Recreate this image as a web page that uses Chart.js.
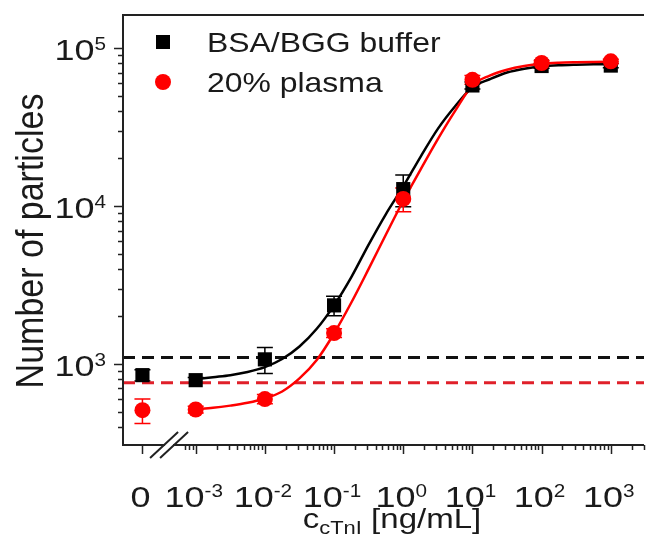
<!DOCTYPE html>
<html>
<head>
<meta charset="utf-8">
<script src="https://cdn.jsdelivr.net/npm/chart.js@4.4.1/dist/chart.umd.min.js"></script>
<style>
  html, body { margin: 0; padding: 0; background: #fff; }
  #wrap { width: 654px; height: 538px; }
</style>
</head>
<body>
<div id="wrap"><canvas id="chart" width="654" height="538"></canvas></div>
<script>
// measured points, cTnI in ng/mL (0 = blank sample)
const concentrations = [0, 1e-3, 1e-2, 1e-1, 1, 10, 100, 1000];
const bufferCounts = [850, 790, 1070, 2350, 12800, 58000, 77000, 77500];
const bufferErrors = [70, 30, 200, 330, 2900, 3000, 2500, 2500];
const plasmaCounts = [510, 515, 600, 1570, 11100, 63000, 80500, 82500];
const plasmaErrors = [90, 25, 40, 100, 1900, 4000, 3000, 2500];

const fitConc = [0.001, 0.001778, 0.003162, 0.005623, 0.01, 0.01778, 0.03162, 0.05623,
  0.1, 0.1778, 0.3162, 0.5623, 1, 1.778, 3.162, 5.623, 10, 17.78, 31.62, 56.23,
  100, 177.8, 316.2, 562.3, 1000];
const bufferFit = [800, 825, 850, 890, 955, 1075, 1290, 1670, 2350, 3550, 5700, 8900,
  13300, 20500, 30800, 42800, 56500, 63500, 70000, 74000, 76500, 77800, 78500, 79000, 79200];
const plasmaFit = [518, 528, 545, 568, 605, 670, 810, 1060, 1560, 2450, 4000, 6600,
  10800, 17000, 26500, 40000, 58000, 67000, 73000, 77000, 79500, 80700, 81300, 81700, 82000];

// blank limits (dashed)
const bufferLimit = 1100;
const plasmaLimit = 760;

// axes
const xTickValues = [0, 1e-3, 1e-2, 1e-1, 1, 10, 100, 1000];
const xTickExps = ['', '-3', '-2', '-1', '0', '1', '2', '3'];
const yTickValues = [1e3, 1e4, 1e5];
const yTickExps = ['3', '4', '5'];

const ZERO_AT = 1.7e-4;   // where the blank sits left of the axis break
const X_MIN = 8.9e-5, X_MAX = 3020;
const Y_MIN = 307, Y_MAX = 162000;

const FONT = '"Liberation Sans", Arial, sans-serif';
const INK = '#1a1a1a';

const xMinor = [7e-4, 8e-4, 9e-4];
for (let e = -3; e <= 3; e++) {
  for (let k = 2; k <= 9; k++) {
    const v = k * Math.pow(10, e);
    if (v < X_MAX) xMinor.push(v);
  }
}
const yMinor = [];
for (let e = 2; e <= 5; e++) {
  for (let k = 2; k <= 9; k++) {
    const v = k * Math.pow(10, e);
    if (v > Y_MIN && v < Y_MAX) yMinor.push(v);
  }
}

const xOf = c => (c === 0 ? ZERO_AT : c);
const pts = (xs, ys) => xs.map((c, i) => ({ x: xOf(c), y: ys[i] }));

// the figure's lettering is a little wider than tall, so text is stretched sideways
function textW(ctx, text, size, sx) {
  ctx.font = size + 'px ' + FONT;
  return ctx.measureText(text).width * sx;
}

function drawText(ctx, text, left, baseline, size, sx) {
  ctx.save();
  ctx.font = size + 'px ' + FONT;
  ctx.translate(left, baseline);
  ctx.scale(sx, 1);
  ctx.textAlign = 'left';
  ctx.textBaseline = 'alphabetic';
  ctx.fillText(text, 0, 0);
  ctx.restore();
}

function powerLabel(ctx, base, exp, anchorX, baseline, align) {
  const wb = textW(ctx, base, 30, 1.2);
  const we = exp ? textW(ctx, exp, 18, 1.15) : 0;
  const total = wb + we;
  const left = align === 'right' ? anchorX - total : anchorX - total / 2;
  drawText(ctx, base, left, baseline, 30, 1.2);
  if (exp) drawText(ctx, exp, left + wb, baseline - 10, 18, 1.15);
}

const errorBars = {
  id: 'errorBars',
  beforeDatasetsDraw(chart) {
    const { ctx, scales: { x, y } } = chart;
    const draw = (means, errs, color) => {
      ctx.save();
      ctx.strokeStyle = color;
      ctx.lineWidth = 1.5;
      means.forEach((m, i) => {
        const px = x.getPixelForValue(xOf(concentrations[i]));
        const top = y.getPixelForValue(m + errs[i]);
        const bot = y.getPixelForValue(Math.max(m - errs[i], 1));
        ctx.beginPath();
        ctx.moveTo(px, top); ctx.lineTo(px, bot);
        ctx.moveTo(px - 8, top); ctx.lineTo(px + 8, top);
        ctx.moveTo(px - 8, bot); ctx.lineTo(px + 8, bot);
        ctx.stroke();
      });
      ctx.restore();
    };
    draw(bufferCounts, bufferErrors, '#000');
    draw(plasmaCounts, plasmaErrors, '#f00');
  }
};

const frame = {
  id: 'frame',
  afterDraw(chart) {
    const { ctx, chartArea: a, scales: { x, y } } = chart;
    ctx.save();
    ctx.strokeStyle = '#222';
    ctx.lineWidth = 2;
    ctx.beginPath();
    ctx.moveTo(a.right, a.top); ctx.lineTo(a.left, a.top);
    ctx.lineTo(a.left, a.bottom); ctx.lineTo(a.right, a.bottom);
    ctx.stroke();

    // ticks
    ctx.lineWidth = 1.5;
    ctx.beginPath();
    xTickValues.forEach(v => {
      const px = Math.round(x.getPixelForValue(xOf(v))) + 0.5;
      ctx.moveTo(px, a.bottom); ctx.lineTo(px, a.bottom + 9);
    });
    xMinor.forEach(v => {
      const px = Math.round(x.getPixelForValue(v)) + 0.5;
      ctx.moveTo(px, a.bottom); ctx.lineTo(px, a.bottom + 5);
    });
    yTickValues.forEach(v => {
      const py = Math.round(y.getPixelForValue(v)) + 0.5;
      ctx.moveTo(a.left, py); ctx.lineTo(a.left - 9, py);
    });
    yMinor.forEach(v => {
      const py = Math.round(y.getPixelForValue(v)) + 0.5;
      ctx.moveTo(a.left, py); ctx.lineTo(a.left - 5, py);
    });
    ctx.stroke();

    // axis break between the blank and 10^-3
    const mid = (x.getPixelForValue(ZERO_AT) + x.getPixelForValue(1e-3)) / 2;
    const by = a.bottom;
    ctx.fillStyle = '#fff';
    ctx.fillRect(mid - 4, by - 3, 8, 6);
    ctx.strokeStyle = '#222';
    ctx.lineWidth = 2;
    ctx.beginPath();
    [-5, 5].forEach(d => {
      ctx.moveTo(mid + d - 14, by + 13); ctx.lineTo(mid + d + 14, by - 13);
    });
    ctx.stroke();

    // tick labels
    ctx.fillStyle = INK;
    xTickValues.forEach((v, i) => {
      const px = x.getPixelForValue(xOf(v));
      powerLabel(ctx, v === 0 ? '0' : '10', xTickExps[i], px - 2, 507, 'center');
    });
    yTickValues.forEach((v, i) => {
      const py = y.getPixelForValue(v);
      powerLabel(ctx, '10', yTickExps[i], 106, py + 12, 'right');
    });

    // axis titles
    ctx.save();
    ctx.font = '34px ' + FONT;
    ctx.translate(32, 241);
    ctx.scale(1.12, 1);
    ctx.rotate(-Math.PI / 2);
    ctx.textAlign = 'center';
    ctx.textBaseline = 'middle';
    ctx.fillText('Number of particles', 0, 0);
    ctx.restore();

    const wc = textW(ctx, 'c', 28, 1.18), ws = textW(ctx, 'cTnI', 18, 1.22),
      wr = textW(ctx, ' [ng/mL]', 28, 1.18);
    const tx = 392 - (wc + ws + wr) / 2;
    drawText(ctx, 'c', tx, 528, 28, 1.18);
    drawText(ctx, 'cTnI', tx + wc, 534, 18, 1.22);
    drawText(ctx, ' [ng/mL]', tx + wc + ws, 528, 28, 1.18);

    // legend
    ctx.fillStyle = '#000';
    ctx.fillRect(156, 35, 14, 14);
    ctx.fillStyle = '#f00';
    ctx.beginPath();
    ctx.arc(163, 82, 8, 0, Math.PI * 2);
    ctx.fill();
    ctx.fillStyle = INK;
    drawText(ctx, 'BSA/BGG buffer', 207, 52, 28, 1.14);
    drawText(ctx, '20% plasma', 207, 92, 28, 1.14);
    ctx.restore();
  }
};

new Chart(document.getElementById('chart'), {
  type: 'scatter',
  data: {
    datasets: [
      { label: '20% plasma', data: pts(concentrations, plasmaCounts), order: 1,
        pointStyle: 'circle', pointRadius: 8, pointBorderWidth: 0,
        backgroundColor: '#f00', borderColor: '#f00' },
      { label: 'BSA/BGG buffer', data: pts(concentrations, bufferCounts), order: 2,
        pointStyle: 'rect', pointRadius: 10, pointBorderWidth: 0,
        backgroundColor: '#000', borderColor: '#000' },
      { label: 'plasma fit', data: pts(fitConc, plasmaFit), order: 3, showLine: true,
        borderColor: '#f00', borderWidth: 2.5, pointRadius: 0, cubicInterpolationMode: 'monotone' },
      { label: 'buffer fit', data: pts(fitConc, bufferFit), order: 4, showLine: true,
        borderColor: '#000', borderWidth: 2.5, pointRadius: 0, cubicInterpolationMode: 'monotone' },
      { label: 'plasma blank', data: [{ x: X_MIN, y: plasmaLimit }, { x: X_MAX, y: plasmaLimit }],
        order: 5, showLine: true, borderColor: '#e0202a', borderWidth: 3, borderDash: [12, 7], pointRadius: 0 },
      { label: 'buffer blank', data: [{ x: X_MIN, y: bufferLimit }, { x: X_MAX, y: bufferLimit }],
        order: 6, showLine: true, borderColor: '#111', borderWidth: 3, borderDash: [12, 7], pointRadius: 0 }
    ]
  },
  options: {
    responsive: false,
    animation: false,
    devicePixelRatio: 1,
    layout: { padding: { left: 123, top: 15, right: 0, bottom: 93 } },
    plugins: { legend: { display: false }, tooltip: { enabled: false } },
    scales: {
      x: { type: 'logarithmic', min: X_MIN, max: X_MAX, display: false },
      y: { type: 'logarithmic', min: Y_MIN, max: Y_MAX, display: false }
    }
  },
  plugins: [errorBars, frame]
});
</script>
</body>
</html>
